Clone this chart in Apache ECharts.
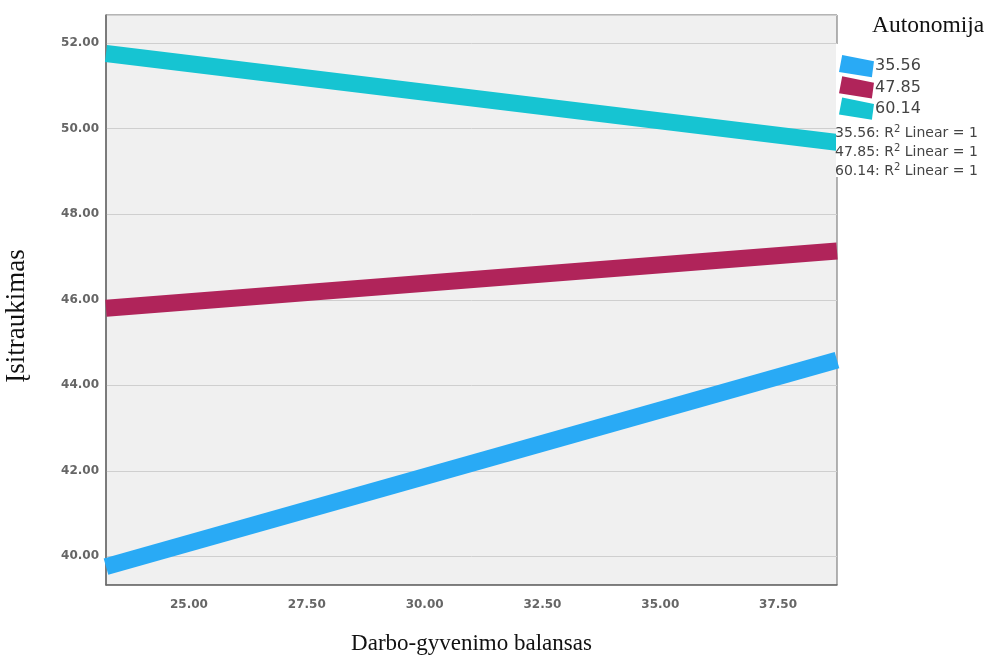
<!DOCTYPE html>
<html>
<head>
<meta charset="utf-8">
<script src="https://cdn.jsdelivr.net/npm/echarts@6/dist/echarts.min.js"></script>
<style>
  html, body { margin: 0; padding: 0; background: #fff; }
  #chart { width: 990px; height: 660px; }
</style>
</head>
<body>
<div id="chart"></div>
<script>
// fit line ends (x range of the data) and the y value of each line there
const xEnds = [23.24, 38.75]
const seriesNames = ['35.56', '47.85', '60.14']
const lowY = [39.76, 44.59]   // Autonomija 35.56
const midY = [45.80, 47.14]   // Autonomija 47.85
const highY = [51.76, 49.68]  // Autonomija 60.14
const xTicks = [25, 27.5, 30, 32.5, 35, 37.5]
const fitNotes = ['35.56', '47.85', '60.14']

const colors = ['#29aaf5', '#b0245a', '#16c4d2']
const serif = '"Liberation Serif", "Times New Roman", serif'
const sans = '"DejaVu Sans", sans-serif'

const chart = echarts.init(document.getElementById('chart'))

const ys = [lowY, midY, highY]
const series = seriesNames.map((name, i) => ({
  name: name,
  type: 'line',
  data: xEnds.map((x, j) => [x, ys[i][j]]),
  symbol: 'none',
  clip: true,
  lineStyle: { width: 17, color: colors[i], cap: 'butt' },
  itemStyle: { color: colors[i] },
  z: 2
}))

chart.setOption({
  animation: false,
  title: {
    text: 'Autonomija',
    left: 872,
    top: 14,
    padding: 0,
    textStyle: { fontFamily: serif, fontSize: 23.5, fontWeight: 'normal', color: '#111' }
  },
  grid: {
    left: 106, right: 153, top: 15, bottom: 72,
    show: true,
    backgroundColor: '#f0f0f0',
    borderColor: '#6a6a6a',
    borderWidth: 1
  },
  legend: {
    orient: 'vertical',
    left: 839,
    top: 55,
    padding: 0,
    itemWidth: 35,
    itemHeight: 25,
    itemGap: -1,
    z: 10,
    icon: 'path://M3,0 L33,6 L31,21 L0,16 Z',
    data: seriesNames,
    textStyle: { fontFamily: sans, fontSize: 16, color: '#444', padding: [0, 0, 0, -4] }
  },
  xAxis: {
    type: 'value',
    min: xEnds[0],
    max: xEnds[1],
    name: 'Darbo-gyvenimo balansas',
    nameLocation: 'middle',
    nameGap: 47,
    nameTextStyle: { fontFamily: serif, fontSize: 23, color: '#111' },
    axisLine: { show: true, lineStyle: { color: '#6a6a6a', width: 1.5 } },
    axisTick: { show: false },
    splitLine: { show: false },
    axisLabel: {
      customValues: xTicks,
      formatter: v => v.toFixed(2),
      margin: 14,
      fontFamily: sans, fontSize: 12, fontWeight: 'bold', color: '#666'
    }
  },
  yAxis: {
    type: 'value',
    min: 39.33,
    max: 52.66,
    splitNumber: 6,
    axisLine: { show: true, lineStyle: { color: '#6a6a6a', width: 1.5 } },
    axisTick: { show: false },
    splitLine: { show: true, lineStyle: { color: '#cfcfcf', width: 1 } },
    axisLabel: {
      showMinLabel: false,
      showMaxLabel: false,
      formatter: v => v.toFixed(2),
      margin: 7,
      fontFamily: sans, fontSize: 12, fontWeight: 'bold', color: '#666'
    }
  },
  graphic: [
    {
      type: 'rect',
      shape: { x: 836, y: 44, width: 154, height: 133 },
      style: { fill: '#fff' },
      z: 3
    },
    {
      type: 'text',
      x: 17, y: 316,
      rotation: Math.PI / 2,
      style: {
        text: 'Įsitraukimas',
        font: '27px ' + serif,
        fill: '#111',
        align: 'center',
        verticalAlign: 'middle'
      },
      z: 5
    },
    ...fitNotes.map((n, i) => ({
      type: 'text',
      x: 835,
      y: 133 + i * 19,
      style: {
        text: n + ': R{sup|2} Linear = 1',
        font: '14px ' + sans,
        fill: '#444',
        verticalAlign: 'middle',
        rich: { sup: { fontSize: 10, fill: '#444', padding: [0, 0, 8, 0], fontFamily: sans } }
      },
      z: 11
    }))
  ],
  series: series
})
</script>
</body>
</html>
